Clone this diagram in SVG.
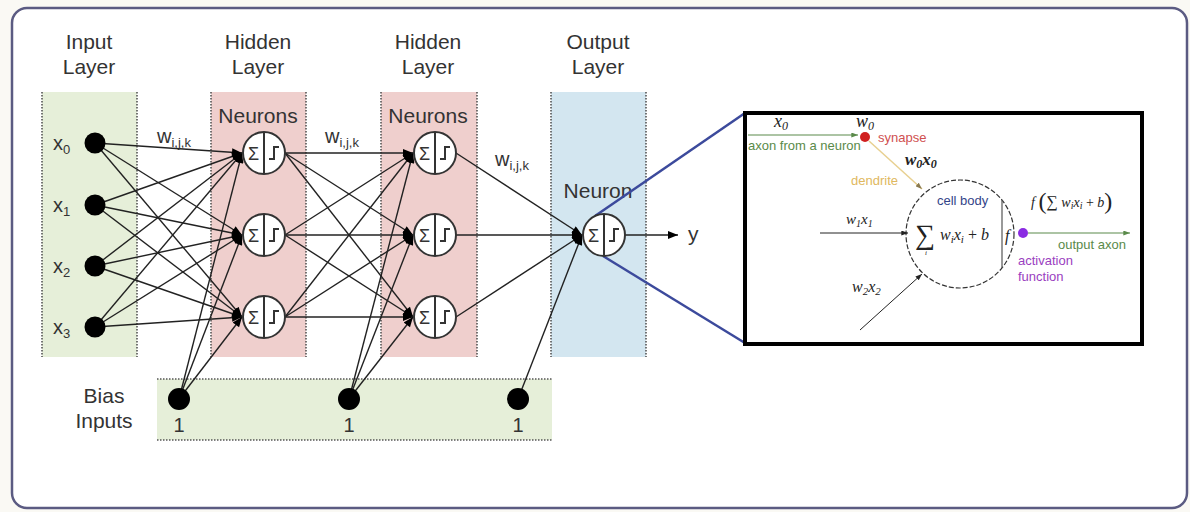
<svg xmlns="http://www.w3.org/2000/svg" width="1190" height="512" viewBox="0 0 1190 512">
<defs>
<style>
.t{font-family:"Liberation Sans",Arial,sans-serif;fill:#333;}
.h{font-size:21px;text-anchor:middle;}
.lbl{font-size:20px;}
.sub{font-size:13px;}
.c{stroke:#222;stroke-width:1.4;fill:none;}
.dot{stroke:#555;stroke-width:1.6;stroke-dasharray:1.5 1.5;fill:none;}
.node{fill:#000;}
.nc{fill:#fff;stroke:#333;stroke-width:2;}
.m{font-family:"Liberation Serif","Times New Roman",serif;font-style:italic;fill:#222;}
.s{font-family:"Liberation Sans",Arial,sans-serif;font-size:13px;}
</style>
<marker id="ah" viewBox="0 0 10 8" refX="10" refY="4" markerWidth="11" markerHeight="8" markerUnits="userSpaceOnUse" orient="auto">
<path d="M0,0 L10,4 L0,8 Z" fill="#000"/>
</marker>
<marker id="sa" viewBox="0 0 8 6" refX="8" refY="3" markerWidth="7" markerHeight="5" markerUnits="userSpaceOnUse" orient="auto">
<path d="M0,0 L8,3 L0,6 Z" fill="#222"/>
</marker>
<marker id="ga" viewBox="0 0 8 6" refX="8" refY="3" markerWidth="7" markerHeight="5" markerUnits="userSpaceOnUse" orient="auto">
<path d="M0,0 L8,3 L0,6 Z" fill="#5a8a4a"/>
</marker>
<marker id="ya" viewBox="0 0 8 6" refX="8" refY="3" markerWidth="7" markerHeight="5" markerUnits="userSpaceOnUse" orient="auto">
<path d="M0,0 L8,3 L0,6 Z" fill="#8a7a50"/>
</marker>
<g id="neuron">
<circle cx="0" cy="0" r="21" class="nc"/>
<line x1="0" y1="-21" x2="0" y2="21" stroke="#333" stroke-width="2"/>
<text x="-10.5" y="6.5" class="t" style="font-size:18px;text-anchor:middle;">Σ</text>
<path d="M5,6 H10 V-6 H15" fill="none" stroke="#333" stroke-width="2"/>
</g>
</defs>
<rect width="1190" height="512" fill="#faf9f4"/>
<rect x="12" y="8" width="1175" height="500" rx="15" fill="#fff" stroke="#5b5b82" stroke-width="2.5"/>

<g id="bands">
<rect x="42" y="92" width="95" height="265" fill="#e6efd9"/>
<line x1="42" y1="92" x2="42" y2="357" class="dot"/>
<line x1="137" y1="92" x2="137" y2="357" class="dot"/>
<rect x="211" y="92" width="95" height="265" fill="#efcfcd"/>
<line x1="211" y1="92" x2="211" y2="357" class="dot"/>
<line x1="306" y1="92" x2="306" y2="357" class="dot"/>
<rect x="381" y="92" width="96" height="265" fill="#efcfcd"/>
<line x1="381" y1="92" x2="381" y2="357" class="dot"/>
<line x1="477" y1="92" x2="477" y2="357" class="dot"/>
<rect x="551" y="92" width="95" height="265" fill="#d3e6f0"/>
<line x1="551" y1="92" x2="551" y2="357" class="dot"/>
<line x1="646" y1="92" x2="646" y2="357" class="dot"/>
<rect x="157" y="379" width="395" height="61" fill="#e6efd9"/>
<line x1="157" y1="379" x2="552" y2="379" class="dot"/>
<line x1="157" y1="440" x2="552" y2="440" class="dot"/>
</g>

<g id="titles" class="t h">
<text x="89" y="49">Input</text><text x="89" y="74">Layer</text>
<text x="258" y="49">Hidden</text><text x="258" y="74">Layer</text>
<text x="428" y="49">Hidden</text><text x="428" y="74">Layer</text>
<text x="598" y="49">Output</text><text x="598" y="74">Layer</text>
<text x="258" y="123">Neurons</text>
<text x="428" y="123">Neurons</text>
<text x="598" y="198">Neuron</text>
<text x="104" y="403">Bias</text><text x="104" y="428">Inputs</text>
</g>

<g id="connectors">
<g class="c" marker-end="url(#ah)">
<line x1="95" y1="143" x2="242" y2="153"/><line x1="95" y1="143" x2="242" y2="235"/><line x1="95" y1="143" x2="242" y2="317"/>
<line x1="95" y1="205" x2="242" y2="153"/><line x1="95" y1="205" x2="242" y2="235"/><line x1="95" y1="205" x2="242" y2="317"/>
<line x1="95" y1="266" x2="242" y2="153"/><line x1="95" y1="266" x2="242" y2="235"/><line x1="95" y1="266" x2="242" y2="317"/>
<line x1="95" y1="327" x2="242" y2="153"/><line x1="95" y1="327" x2="242" y2="235"/><line x1="95" y1="327" x2="242" y2="317"/>
<line x1="179" y1="399" x2="242" y2="153"/><line x1="179" y1="399" x2="242" y2="235"/><line x1="179" y1="399" x2="242" y2="317"/>
<line x1="285" y1="153" x2="413" y2="153"/><line x1="285" y1="153" x2="413" y2="235"/><line x1="285" y1="153" x2="413" y2="317"/>
<line x1="285" y1="235" x2="413" y2="153"/><line x1="285" y1="235" x2="413" y2="235"/><line x1="285" y1="235" x2="413" y2="317"/>
<line x1="285" y1="317" x2="413" y2="153"/><line x1="285" y1="317" x2="413" y2="235"/><line x1="285" y1="317" x2="413" y2="317"/>
<line x1="349" y1="399" x2="413" y2="153"/><line x1="349" y1="399" x2="413" y2="235"/><line x1="349" y1="399" x2="413" y2="317"/>
<line x1="456" y1="153" x2="582" y2="235"/><line x1="456" y1="235" x2="582" y2="235"/><line x1="456" y1="317" x2="582" y2="235"/>
<line x1="518" y1="399" x2="582" y2="235"/>
<line x1="625" y1="235" x2="678" y2="235"/>
</g>
<line x1="595" y1="216" x2="745" y2="113" stroke="#3c4a9c" stroke-width="2.5"/>
<line x1="603" y1="256" x2="745" y2="343" stroke="#3c4a9c" stroke-width="2.5"/>
</g>

<g id="input-nodes">
<circle cx="95" cy="143" r="10.5" class="node"/>
<circle cx="95" cy="205" r="10.5" class="node"/>
<circle cx="95" cy="266" r="10.5" class="node"/>
<circle cx="95" cy="327" r="10.5" class="node"/>
<g class="t lbl">
<text x="53" y="150">x<tspan class="sub" dy="4">0</tspan></text>
<text x="53" y="212">x<tspan class="sub" dy="4">1</tspan></text>
<text x="53" y="273">x<tspan class="sub" dy="4">2</tspan></text>
<text x="53" y="334">x<tspan class="sub" dy="4">3</tspan></text>
</g>
</g>

<g id="bias-nodes">
<circle cx="179" cy="399" r="11" class="node"/>
<circle cx="349" cy="399" r="11" class="node"/>
<circle cx="518" cy="399" r="11" class="node"/>
<g class="t lbl" text-anchor="middle">
<text x="179" y="432">1</text><text x="349" y="432">1</text><text x="518" y="432">1</text>
</g>
</g>

<g id="weights" class="t lbl">
<text x="157" y="143">w<tspan class="sub" dy="4">i,j,k</tspan></text>
<text x="325" y="143">w<tspan class="sub" dy="4">i,j,k</tspan></text>
<text x="495" y="166">w<tspan class="sub" dy="4">i,j,k</tspan></text>
</g>

<g id="hidden1">
<use href="#neuron" x="264" y="153"/>
<use href="#neuron" x="264" y="235"/>
<use href="#neuron" x="264" y="317"/>
</g>
<g id="hidden2">
<use href="#neuron" x="435" y="153"/>
<use href="#neuron" x="435" y="235"/>
<use href="#neuron" x="435" y="317"/>
</g>
<g id="output">
<use href="#neuron" x="604" y="235"/>
<text x="688" y="241" class="t" style="font-size:21px;">y</text>
</g>

<g id="zoom-box">
<rect x="745" y="113" width="397" height="231" fill="#fff" stroke="#000" stroke-width="4"/>
<line x1="748" y1="135" x2="858" y2="135" stroke="#5a8a4a" stroke-width="1.2" marker-end="url(#ga)"/>
<text x="774" y="127" class="m" font-size="18">x<tspan font-size="12" dy="3">0</tspan></text>
<text x="748" y="150" class="s" fill="#5a8a4a">axon from a neuron</text>
<text x="856" y="127" class="m" font-size="18">w<tspan font-size="12" dy="3">0</tspan></text>
<circle cx="865" cy="137" r="5" fill="#d02020"/>
<text x="878" y="142" class="s" fill="#d05050">synapse</text>
<line x1="869" y1="141" x2="922" y2="189" stroke="#e8d090" stroke-width="1.5" marker-end="url(#ya)"/>
<text x="905" y="165" class="m" font-size="17" font-weight="bold">w<tspan font-size="12" dy="3">0</tspan><tspan dy="-3">x</tspan><tspan font-size="12" dy="3">0</tspan></text>
<text x="851" y="185" class="s" fill="#e0b860">dendrite</text>
<circle cx="960" cy="234" r="54" fill="none" stroke="#333" stroke-width="1.2" stroke-dasharray="5 2"/>
<line x1="1002" y1="200" x2="1002" y2="268" stroke="#555" stroke-width="1.2"/>
<text x="937" y="205" class="s" fill="#334488">cell body</text>
<text x="915" y="244" class="m" style="font-style:normal" font-size="28">∑</text>
<text x="925" y="255" class="m" font-size="7">i</text>
<text x="940" y="240" class="m" font-size="16">w<tspan font-size="11" dy="3">i</tspan><tspan dy="-3">x</tspan><tspan font-size="11" dy="3">i</tspan><tspan dy="-3" style="font-style:normal"> + </tspan>b</text>
<text x="1005" y="241" class="m" font-size="16">f</text>
<line x1="820" y1="233" x2="908" y2="233" stroke="#222" stroke-width="1" marker-end="url(#sa)"/>
<text x="846" y="224" class="m" font-size="15">w<tspan font-size="10" dy="3">1</tspan><tspan dy="-3">x</tspan><tspan font-size="10" dy="3">1</tspan></text>
<line x1="860" y1="330" x2="922" y2="274" stroke="#222" stroke-width="1" marker-end="url(#sa)"/>
<text x="852" y="292" class="m" font-size="16">w<tspan font-size="11" dy="3">2</tspan><tspan dy="-3">x</tspan><tspan font-size="11" dy="3">2</tspan></text>
<circle cx="1023" cy="233" r="5" fill="#8a2be2"/>
<line x1="1028" y1="233" x2="1130" y2="233" stroke="#5a8a4a" stroke-width="1.2" marker-end="url(#ga)"/>
<text x="1058" y="249" class="s" fill="#5a8a4a">output axon</text>
<text x="1018" y="265" class="s" fill="#9a40c0">activation</text>
<text x="1018" y="281" class="s" fill="#9a40c0">function</text>
<text x="1031" y="207" class="m" font-size="14">f <tspan font-size="24" style="font-style:normal" dy="2">(</tspan><tspan style="font-style:normal" font-size="16" dy="-2">∑</tspan> w<tspan font-size="10" dy="2">i</tspan><tspan dy="-2">x</tspan><tspan font-size="10" dy="2">i</tspan><tspan dy="-2" style="font-style:normal"> + </tspan>b<tspan font-size="24" style="font-style:normal" dy="2">)</tspan></text>
</g>
</svg>
